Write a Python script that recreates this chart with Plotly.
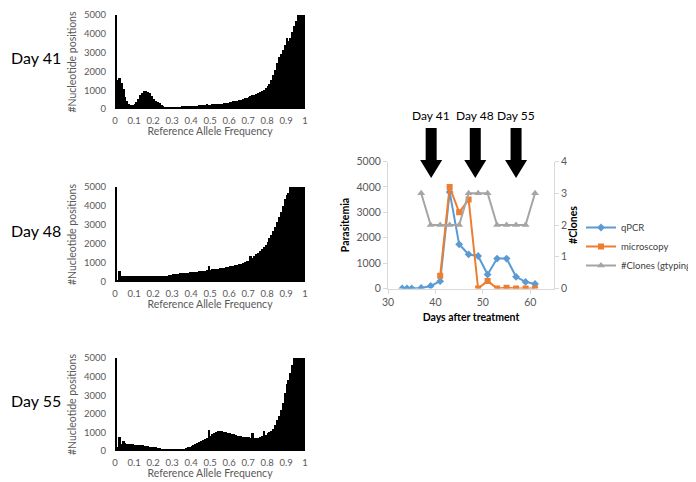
import plotly.graph_objects as go

W, H = 696, 482

# reference allele frequency histograms (100 bins of 0.01, clipped at 5000)
day41_counts = [5000, 1550, 1650, 1400, 1050, 650, 400, 260, 200, 210,
                260, 380, 550, 720, 860, 940, 960, 920, 830, 680,
                540, 430, 360, 300, 230, 160, 130, 120, 120, 120,
                120, 125, 125, 130, 130, 140, 140, 150, 150, 160,
                170, 175, 180, 185, 190, 200, 200, 210, 260, 220,
                230, 240, 250, 260, 270, 280, 290, 300, 320, 340,
                360, 380, 400, 420, 440, 470, 500, 530, 560, 600,
                640, 680, 720, 760, 800, 850, 900, 960, 1030, 1100,
                1200, 1350, 1550, 1800, 2100, 2450, 2750, 2950, 3150, 3400,
                3800, 3600, 3800, 4100, 4400, 4700, 5000, 5000, 5000, 5000]
day48_counts = [5000, 120, 560, 300, 320, 310, 300, 330, 310, 300,
                320, 330, 320, 340, 330, 320, 330, 340, 320, 330,
                310, 300, 310, 290, 300, 310, 320, 340, 360, 380,
                400, 410, 420, 440, 450, 460, 470, 490, 500, 510,
                520, 530, 540, 550, 560, 570, 580, 600, 620, 850,
                640, 660, 680, 690, 700, 720, 740, 760, 780, 800,
                820, 840, 860, 880, 900, 930, 960, 1000, 1040, 1080,
                1120, 1350, 1250, 1350, 1450, 1550, 1650, 1750, 1850, 1950,
                2100, 2300, 2500, 2700, 2900, 3150, 3400, 3700, 4000, 4350,
                4600, 4700, 5000, 5000, 5000, 5000, 5000, 5000, 5000, 5000]
day55_counts = [5000, 200, 750, 400, 530, 420, 400, 380, 360, 350,
                340, 340, 330, 320, 300, 280, 260, 250, 230, 220,
                210, 190, 170, 150, 130, 120, 100, 90, 80, 75,
                70, 70, 70, 75, 80, 100, 130, 160, 200, 240,
                280, 330, 380, 430, 480, 540, 600, 660, 720, 1150,
                780, 900, 980, 1020, 1060, 1090, 1060, 1040, 1010, 980,
                950, 920, 890, 860, 830, 810, 790, 770, 750, 740,
                730, 720, 950, 720, 710, 720, 740, 800, 1050, 880,
                950, 1000, 1080, 1200, 1400, 1650, 1900, 2200, 2600, 3100,
                3600, 3800, 4200, 4600, 5000, 5000, 5000, 5000, 5000, 5000]
bin_centers = [0.005 + 0.01 * i for i in range(100)]
freq_ticks = [0, 0.1, 0.2, 0.3, 0.4, 0.5, 0.6, 0.7, 0.8, 0.9, 1]
freq_labels = ["0", "0.1", "0.2", "0.3", "0.4", "0.5", "0.6", "0.7", "0.8", "0.9", "1"]
hist_days = ["Day 41", "Day 48", "Day 55"]

# parasitemia time course
qpcr_days = [33, 34, 35, 37, 39, 41, 43, 45, 47, 49, 51, 53, 55, 57, 59, 61]
qpcr_vals = [0, 0, 0, 20, 100, 290, 3800, 1740, 1340, 1280, 550, 1180, 1180, 460, 260, 180]
micro_days = [41, 43, 45, 47, 49, 51, 53, 55, 57, 59, 61]
micro_vals = [500, 4000, 3000, 3500, 0, 300, 0, 30, 0, 0, 0]
clone_days = [37, 39, 41, 43, 45, 47, 49, 51, 53, 55, 57, 59, 61]
clone_vals = [3, 2, 2, 2, 2, 3, 3, 3, 2, 2, 2, 2, 3]
arrow_days = [39.1, 48.4, 57.0]
arrow_labels = ["Day 41", "Day 48", "Day 55"]

FONT = "Lato"
GREY = "#595959"
AX = "#d9d9d9"

fig = go.Figure()

# histogram panels: pixel rows of (5000 line, 0 line)
hist_rows = [(7, 101), (179, 274), (350, 443)]
hist_data = [day41_counts, day48_counts, day55_counts]
for i, (counts, (ytop, ybot)) in enumerate(zip(hist_data, hist_rows)):
    n = "" if i == 0 else str(i + 1)
    fig.add_trace(go.Bar(x=bin_centers, y=counts, width=0.01, marker=dict(color="black", line=dict(width=0)),
                         xaxis="x" + n, yaxis="y" + n, showlegend=False))
    fig.layout["xaxis" + n] = dict(domain=[107 / W, 297 / W], range=[0, 1], anchor="y" + n,
                                   tickvals=freq_ticks, ticktext=freq_labels, showgrid=False, zeroline=False,
                                   showline=False, ticks="", ticklabelstandoff=4,
                                   tickfont=dict(size=9.5, color=GREY, family=FONT),
                                   title=dict(text="Reference Allele Frequency", standoff=3,
                                              font=dict(size=10.5, color=GREY, family=FONT)))
    fig.layout["yaxis" + n] = dict(domain=[1 - ybot / H, 1 - ytop / H], range=[0, 5000], anchor="x" + n,
                                   dtick=1000, showgrid=False, zeroline=False, showline=False, ticks="",
                                   ticklabelstandoff=8, tickfont=dict(size=9.5, color=GREY, family=FONT),
                                   title=dict(text="#Nucleotide positions", standoff=5,
                                              font=dict(size=10.5, color=GREY, family=FONT)))
    fig.add_annotation(text=hist_days[i], x=1 / W, y=1 - ((ytop + ybot) / 2 - 4) / H, xref="paper", yref="paper",
                       xanchor="left", yanchor="middle", showarrow=False, font=dict(size=16, color="black", family=FONT))

# time course panel
fig.add_trace(go.Scatter(x=qpcr_days, y=qpcr_vals, name="qPCR", mode="lines+markers", xaxis="x4", yaxis="y4",
                         line=dict(color="#5B9BD5", width=2), marker=dict(symbol="diamond", size=6), legendrank=1))
fig.add_trace(go.Scatter(x=micro_days, y=micro_vals, name="microscopy", mode="lines+markers", xaxis="x4", yaxis="y4",
                         line=dict(color="#ED7D31", width=2), marker=dict(symbol="square", size=6), legendrank=2))
fig.add_trace(go.Scatter(x=clone_days, y=clone_vals, name="#Clones (gtyping)", mode="lines+markers", xaxis="x4",
                         yaxis="y5", line=dict(color="#A5A5A5", width=2), marker=dict(symbol="triangle-up", size=7),
                         legendrank=3))

fig.update_layout(
    xaxis4=dict(domain=[380 / W, 546 / W], range=[30, 65], anchor="y4", dtick=10, showgrid=False, zeroline=False,
                showline=True, linecolor=AX, ticks="outside", tickcolor=AX, ticklen=4,
                tickfont=dict(size=10.5, color=GREY, family=FONT),
                title=dict(text="<b>Days after treatment</b>", standoff=6, font=dict(size=10.5, color="black", family=FONT))),
    yaxis4=dict(domain=[1 - 280.5 / H, 1 - 153.5 / H], range=[0, 5000], anchor="x4", dtick=1000, showgrid=False,
                zeroline=False, showline=True, linecolor=AX, ticks="outside", tickcolor=AX, ticklen=4,
                tickfont=dict(size=10.5, color=GREY, family=FONT),
                title=dict(text="<b>Parasitemia</b>", standoff=4, font=dict(size=10.5, color="black", family=FONT))),
    yaxis5=dict(overlaying="y4", side="right", anchor="x4", range=[0, 4], dtick=1, showgrid=False, zeroline=False,
                showline=True, linecolor=AX, ticks="outside", tickcolor=AX, ticklen=4,
                tickfont=dict(size=10.5, color=GREY, family=FONT),
                title=dict(text="<b>#Clones</b>", standoff=2, font=dict(size=10.5, color="black", family=FONT))),
)

# block arrows above the time course
px_per_day = (546 - 380) / 35
shaft = 5.5 / px_per_day
head = 11 / px_per_day
y_top, y_head, y_tip = 1 - 120 / H, 1 - 152 / H, 1 - 170 / H
for d, lab in zip(arrow_days, arrow_labels):
    path = (f"M {d - shaft},{y_top} L {d + shaft},{y_top} L {d + shaft},{y_head} L {d + head},{y_head} "
            f"L {d},{y_tip} L {d - head},{y_head} L {d - shaft},{y_head} Z")
    fig.add_shape(type="path", path=path, xref="x4", yref="paper", fillcolor="black", line=dict(width=0))
    fig.add_annotation(text=lab, x=d, y=1 - 108 / H, xref="x4", yref="paper", showarrow=False,
                       yanchor="middle", font=dict(size=12, color="black", family=FONT))

fig.update_layout(
    width=W, height=H, margin=dict(l=0, r=0, t=0, b=0, autoexpand=False), paper_bgcolor="white",
    plot_bgcolor="white", bargap=0, font=dict(family=FONT),
    legend=dict(x=573 / W, y=1 - 205 / H, xanchor="left", yanchor="top", itemwidth=30, tracegroupgap=0,
                font=dict(size=9.5, color="#404040", family=FONT), bgcolor="rgba(0,0,0,0)"),
)

fig.write_html("out.html")
